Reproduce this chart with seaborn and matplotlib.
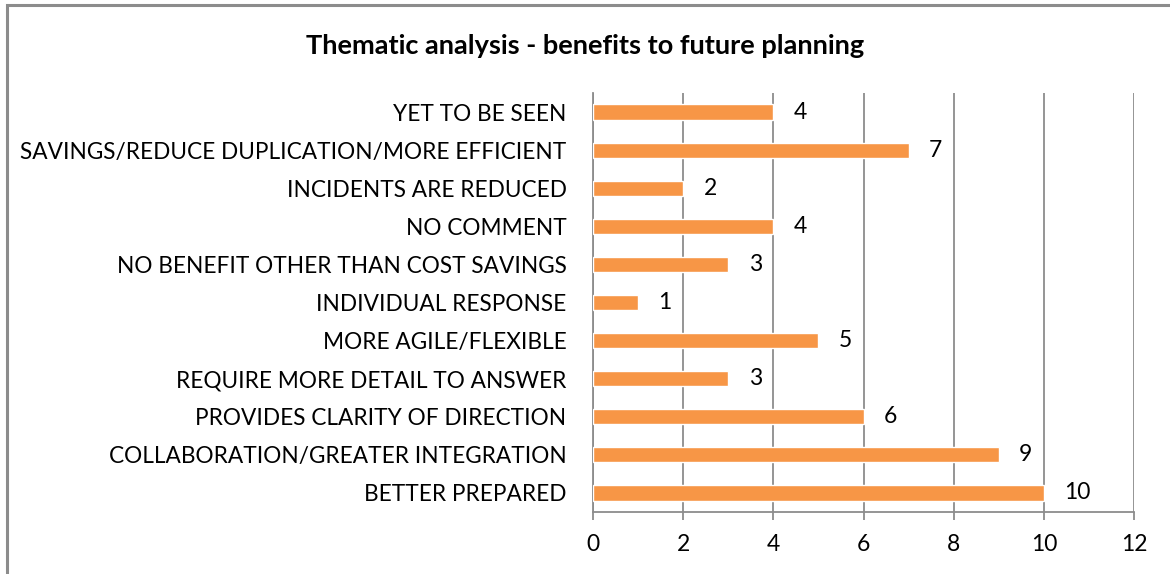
import matplotlib
matplotlib.use("Agg")
import matplotlib.pyplot as plt
import seaborn as sns
import pandas as pd
from matplotlib.patches import Rectangle

categories = [
    "YET TO BE SEEN",
    "SAVINGS/REDUCE DUPLICATION/MORE EFFICIENT",
    "INCIDENTS ARE REDUCED",
    "NO COMMENT",
    "NO BENEFIT OTHER THAN COST SAVINGS",
    "INDIVIDUAL RESPONSE",
    "MORE AGILE/FLEXIBLE",
    "REQUIRE MORE DETAIL TO ANSWER",
    "PROVIDES CLARITY OF DIRECTION",
    "COLLABORATION/GREATER INTEGRATION",
    "BETTER PREPARED",
]
counts = [4, 7, 2, 4, 3, 1, 5, 3, 6, 9, 10]
x_ticks = [0, 2, 4, 6, 8, 10, 12]
title = "Thematic analysis - benefits to future planning"

df = pd.DataFrame({"category": categories, "count": counts})

sns.set_theme(style="white")
plt.rcParams["font.family"] = ["Lato", "DejaVu Sans"]

fig = plt.figure(figsize=(11.7, 5.74), dpi=100)
ax = fig.add_axes([593 / 1170, 1 - 512 / 574, (1134 - 593) / 1170, (512 - 93) / 574])

sns.barplot(data=df, y="category", x="count", orient="h", color="#F79646",
            saturation=1, width=0.4, ax=ax, zorder=3)

grid_c = "#8c8c8c"
ax.set_xlim(0, 12)
ax.set_ylim(len(categories) - 0.5, -0.5)
ax.set_xticks(x_ticks)
ax.set_xticklabels([str(t) for t in x_ticks], fontsize=16.5, color="#000000")
ax.tick_params(axis="x", length=6, width=1.3, color=grid_c, pad=10, direction="out", bottom=True)
ax.tick_params(axis="y", length=0, pad=19, labelsize=16.3, labelcolor="#000000")
ax.xaxis.grid(True, color=grid_c, linewidth=1.3, zorder=0)
ax.yaxis.grid(False)
ax.set_xlabel("")
ax.set_ylabel("")
for s in ["top", "right"]:
    ax.spines[s].set_visible(False)
for s in ["left", "bottom"]:
    ax.spines[s].set_color(grid_c)
    ax.spines[s].set_linewidth(1.3)

for i, v in enumerate(counts):
    ax.text(v + 0.45, i, str(v), va="center", ha="left", fontsize=16.5, color="#000000")

fig.text(0.5, 1 - 46 / 574, title, ha="center", va="center", fontsize=19.5,
         fontweight="bold", color="#000000")

fig.patches.append(Rectangle((7 / 1170, -0.05), 1.2, 1 - 5 / 574 + 0.05,
                             transform=fig.transFigure, fill=False,
                             edgecolor="#8c8c8c", linewidth=2.2))

fig.savefig("out.png", dpi=100)
